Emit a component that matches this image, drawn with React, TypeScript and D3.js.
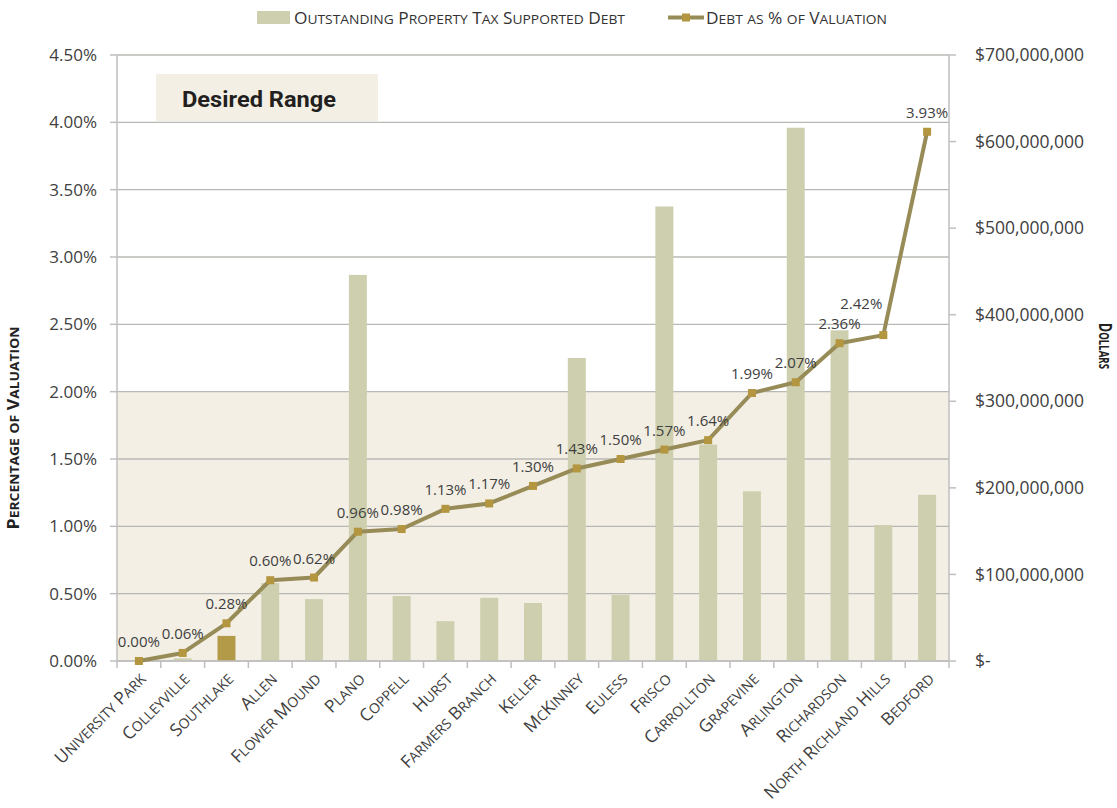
import React from "react";
import * as d3 from "d3";

const cities = [
  "University Park", "Colleyville", "Southlake", "Allen", "Flower Mound", "Plano",
  "Coppell", "Hurst", "Farmers Branch", "Keller", "McKinney", "Euless", "Frisco",
  "Carrollton", "Grapevine", "Arlington", "Richardson", "North Richland Hills", "Bedford",
];
const debtDollars = [
  0, 3e6, 29e6, 90e6, 71.5e6, 446e6, 75e6, 46e6, 73e6, 67e6, 350e6, 76.5e6, 525e6,
  250e6, 196e6, 616e6, 382e6, 157e6, 192e6,
];
const debtPctValuation = [
  0.0, 0.06, 0.28, 0.6, 0.62, 0.96, 0.98, 1.13, 1.17, 1.3, 1.43, 1.5, 1.57, 1.64,
  1.99, 2.07, 2.36, 2.42, 3.93,
];
const highlightCity = "Southlake";
const leftTicks = [0, 0.5, 1, 1.5, 2, 2.5, 3, 3.5, 4, 4.5];
const rightTicks = [0, 100e6, 200e6, 300e6, 400e6, 500e6, 600e6, 700e6];
const desiredRangeMax = 2.0;
const barLegend = "Outstanding Property Tax Supported Debt";
const lineLegend = "Debt as % of Valuation";
const leftTitle = "Percentage of Valuation";
const rightTitle = "Dollars";
const desiredLabel = "Desired Range";

const W = 1117;
const H = 808;
const P = { left: 117, right: 949, top: 55, bottom: 661 };

const BAR = "#CDCFAE";
const BAR_HI = "#B39A48";
const LINE = "#978B57";
const MARK = "#B3963F";
const SHADE = "#F3EFE5";
const GRID = "#B8B8B4";
const AXIS = "#BFBFBF";
const TXT = "#404040";

// manual small caps: lowercase letters become uppercase at a reduced size
function smallCaps(text: string, size: number, ratio = 0.8) {
  const runs: { s: string; small: boolean }[] = [];
  for (const ch of text) {
    const small = ch !== ch.toUpperCase();
    const last = runs[runs.length - 1];
    if (last && last.small === small) last.s += ch;
    else runs.push({ s: ch, small });
  }
  return runs.map((r, i) => (
    <tspan key={i} fontSize={r.small ? size * ratio : size}>
      {r.s.toUpperCase()}
    </tspan>
  ));
}

export default function App() {
  const x = d3
    .scaleBand<string>()
    .domain(cities)
    .range([P.left, P.right])
    .paddingInner(0.59)
    .paddingOuter(0.295);
  const yL = d3.scaleLinear().domain([0, 4.5]).range([P.bottom, P.top]);
  const yR = d3.scaleLinear().domain([0, 700e6]).range([P.bottom, P.top]);
  const cx = (c: string) => (x(c) as number) + x.bandwidth() / 2;
  const step = x.step();

  const line = d3
    .line<number>()
    .x((_, i) => cx(cities[i]))
    .y((d) => yL(d));

  const fmtPct = (v: number) => d3.format(".2f")(v) + "%";
  const fmtDollar = (v: number) => (v === 0 ? "$-" : "$" + d3.format(",")(v));

  const labelNudge = (c: string) =>
    c === "North Richland Hills" ? { dx: -22, dy: -26 } : { dx: 0, dy: -14 };

  const boundaries = d3.range(cities.length + 1).map((i) => P.left + i * step);

  return (
    <svg
      width={W}
      height={H}
      style={{ position: "absolute", left: 0, top: 0, display: "block" }}
      fontFamily="'Open Sans', sans-serif"
    >
      <rect x={0} y={0} width={W} height={H} fill="#fff" />

      {/* desired range shading */}
      <rect
        x={P.left}
        y={yL(desiredRangeMax)}
        width={P.right - P.left}
        height={P.bottom - yL(desiredRangeMax)}
        fill={SHADE}
      />

      {/* gridlines */}
      {leftTicks.map((t) => (
        <line
          key={"g" + t}
          x1={P.left}
          x2={P.right}
          y1={yL(t)}
          y2={yL(t)}
          stroke={GRID}
          strokeWidth={1.3}
        />
      ))}

      {/* desired range box */}
      <rect x={156} y={74} width={222} height={47} fill={SHADE} />
      <text
        x={182}
        y={107}
        fontFamily="Roboto, sans-serif"
        fontWeight="bold"
        fontSize={21.5}
        fill="#231F20"
        textLength={154}
        lengthAdjust="spacingAndGlyphs"
      >
        {desiredLabel}
      </text>

      {/* bars */}
      {cities.map((c, i) => (
        <rect
          key={"b" + c}
          x={x(c)}
          y={yR(debtDollars[i])}
          width={x.bandwidth()}
          height={P.bottom - yR(debtDollars[i])}
          fill={c === highlightCity ? BAR_HI : BAR}
        />
      ))}

      {/* axes */}
      <line x1={P.left} x2={P.left} y1={P.top} y2={P.bottom} stroke={AXIS} strokeWidth={1.5} />
      <line x1={P.right} x2={P.right} y1={P.top} y2={P.bottom} stroke={AXIS} strokeWidth={1.5} />
      <line x1={P.left} x2={P.right} y1={P.bottom} y2={P.bottom} stroke={AXIS} strokeWidth={1.5} />
      {boundaries.map((bx, i) => (
        <line key={"xt" + i} x1={bx} x2={bx} y1={P.bottom} y2={P.bottom + 7} stroke={AXIS} strokeWidth={1.5} />
      ))}
      {leftTicks.map((t) => (
        <g key={"lt" + t}>
          <line x1={P.left - 7} x2={P.left} y1={yL(t)} y2={yL(t)} stroke={AXIS} strokeWidth={1.5} />
          <text x={97} y={yL(t)} dy="0.35em" textAnchor="end" fontSize={17} fill={TXT}>
            {fmtPct(t)}
          </text>
        </g>
      ))}
      {rightTicks.map((t) => (
        <g key={"rt" + t}>
          <line x1={P.right} x2={P.right + 7} y1={yR(t)} y2={yR(t)} stroke={AXIS} strokeWidth={1.5} />
          <text x={975} y={yR(t)} dy="0.35em" textAnchor="start" fontSize={17.5} fill={TXT}>
            {fmtDollar(t)}
          </text>
        </g>
      ))}

      {/* line series */}
      <path d={line(debtPctValuation) || ""} fill="none" stroke={LINE} strokeWidth={4} strokeLinejoin="round" />
      {cities.map((c, i) => (
        <rect
          key={"m" + c}
          x={cx(c) - 4}
          y={yL(debtPctValuation[i]) - 4}
          width={8}
          height={8}
          fill={MARK}
        />
      ))}
      {cities.map((c, i) => {
        const n = labelNudge(c);
        return (
          <text
            key={"dl" + c}
            x={cx(c) + n.dx}
            y={yL(debtPctValuation[i]) + n.dy}
            textAnchor="middle"
            fontSize={15}
            fill={TXT}
          >
            {fmtPct(debtPctValuation[i])}
          </text>
        );
      })}

      {/* x labels */}
      {cities.map((c) => (
        <text
          key={"xl" + c}
          transform={`translate(${cx(c) + 8},${680}) rotate(-45)`}
          textAnchor="end"
          fontSize={17.5}
          fill={TXT}
        >
          {smallCaps(c, 17.5, 0.8)}
        </text>
      ))}

      {/* axis titles */}
      <text
        transform={`translate(19,428) rotate(-90)`}
        textAnchor="middle"
        fontWeight="bold"
        fontSize={16}
        fill="#222"
        textLength={203}
        lengthAdjust="spacingAndGlyphs"
      >
        {smallCaps(leftTitle, 16, 0.78)}
      </text>
      <text
        transform={`translate(1099,346) rotate(90)`}
        textAnchor="middle"
        fontWeight="bold"
        fontSize={17}
        fill="#222"
        textLength={46}
        lengthAdjust="spacingAndGlyphs"
      >
        {smallCaps(rightTitle, 17, 0.78)}
      </text>

      {/* legend */}
      <rect x={257} y={11} width={33} height={13} fill={BAR} />
      <text x={294} y={24} fontSize={16} fill="#333" textLength={331} lengthAdjust="spacingAndGlyphs">
        {smallCaps(barLegend, 16, 0.8)}
      </text>
      <line x1={668} x2={704} y1={17.5} y2={17.5} stroke={LINE} strokeWidth={4} />
      <rect x={682} y={13.5} width={8} height={8} fill={MARK} />
      <text x={706} y={24} fontSize={16} fill="#333" textLength={181} lengthAdjust="spacingAndGlyphs">
        {smallCaps(lineLegend, 16, 0.8)}
      </text>
    </svg>
  );
}
